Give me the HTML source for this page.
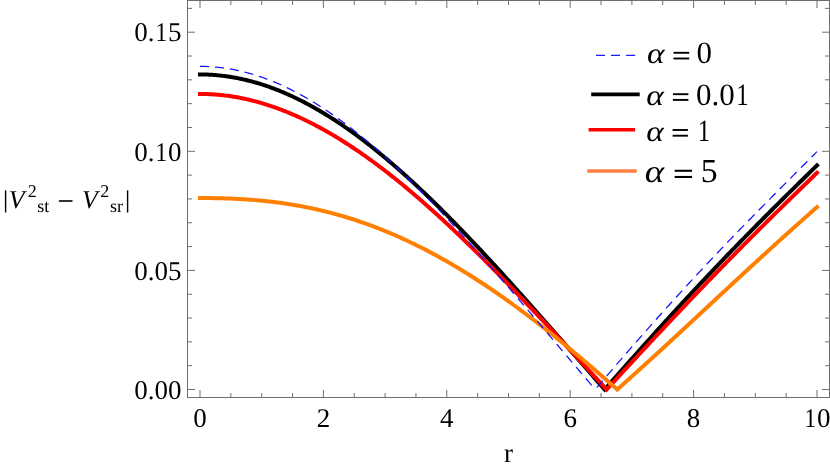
<!DOCTYPE html>
<html><head><meta charset="utf-8"><title>plot</title>
<style>
html,body{margin:0;padding:0;background:#fff;}
body{width:830px;height:468px;overflow:hidden;position:relative;font-family:"Liberation Serif",serif;}
svg{will-change:transform;}
svg text{text-rendering:geometricPrecision;}
</style></head><body>
<svg width="830" height="468" viewBox="0 0 830 468" style="position:absolute;left:0;top:0">
<rect width="830" height="468" fill="#fff"/>
<g fill="none" stroke-linejoin="miter" stroke-miterlimit="10" stroke-linecap="square">
<path d="M200.00 74.46L201.54 74.47L203.09 74.49L204.63 74.52L206.17 74.56L207.71 74.62L209.25 74.69L210.80 74.77L212.34 74.87L213.88 74.97L215.43 75.09L216.97 75.22L218.51 75.37L220.05 75.52L221.59 75.69L223.14 75.87L224.68 76.07L226.22 76.27L227.76 76.49L229.31 76.72L230.85 76.97L232.39 77.22L233.94 77.49L235.48 77.77L237.02 78.06L238.56 78.36L240.11 78.68L241.65 79.01L243.19 79.35L244.73 79.70L246.28 80.07L247.82 80.45L249.36 80.84L250.90 81.24L252.44 81.65L253.99 82.08L255.53 82.51L257.07 82.96L258.62 83.42L260.16 83.90L261.70 84.38L263.24 84.88L264.79 85.39L266.33 85.91L267.87 86.44L269.41 86.98L270.96 87.54L272.50 88.10L274.04 88.68L275.58 89.27L277.12 89.87L278.67 90.48L280.21 91.11L281.75 91.74L283.30 92.39L284.84 93.05L286.38 93.72L287.92 94.40L289.47 95.09L291.01 95.79L292.55 96.50L294.09 97.23L295.63 97.97L297.18 98.71L298.72 99.47L300.26 100.24L301.81 101.02L303.35 101.81L304.89 102.61L306.43 103.42L307.98 104.24L309.52 105.07L311.06 105.92L312.60 106.77L314.14 107.63L315.69 108.51L317.23 109.39L318.77 110.29L320.31 111.20L321.86 112.11L323.40 113.04L324.94 113.97L326.49 114.92L328.03 115.87L329.57 116.84L331.11 117.82L332.65 118.80L334.20 119.80L335.74 120.80L337.28 121.82L338.83 122.84L340.37 123.88L341.91 124.92L343.45 125.97L345.00 127.03L346.54 128.11L348.08 129.19L349.62 130.28L351.17 131.38L352.71 132.49L354.25 133.60L355.79 134.73L357.34 135.87L358.88 137.01L360.42 138.16L361.96 139.33L363.50 140.50L365.05 141.68L366.59 142.86L368.13 144.06L369.68 145.27L371.22 146.48L372.76 147.70L374.30 148.93L375.85 150.17L377.39 151.42L378.93 152.67L380.47 153.93L382.01 155.20L383.56 156.48L385.10 157.77L386.64 159.06L388.19 160.37L389.73 161.68L391.27 162.99L392.81 164.32L394.36 165.65L395.90 166.99L397.44 168.34L398.98 169.69L400.52 171.05L402.07 172.42L403.61 173.80L405.15 175.18L406.70 176.57L408.24 177.97L409.78 179.37L411.32 180.78L412.87 182.20L414.41 183.63L415.95 185.06L417.49 186.49L419.04 187.94L420.58 189.39L422.12 190.84L423.66 192.31L425.21 193.77L426.75 195.25L428.29 196.73L429.83 198.22L431.38 199.71L432.92 201.21L434.46 202.71L436.00 204.22L437.55 205.74L439.09 207.26L440.63 208.79L442.17 210.32L443.72 211.86L445.26 213.40L446.80 214.95L448.34 216.50L449.88 218.06L451.43 219.63L452.97 221.20L454.51 222.77L456.06 224.35L457.60 225.93L459.14 227.52L460.68 229.11L462.23 230.71L463.77 232.31L465.31 233.92L466.85 235.53L468.40 237.15L469.94 238.77L471.48 240.39L473.02 242.02L474.56 243.65L476.11 245.29L477.65 246.93L479.19 248.57L480.74 250.22L482.28 251.87L483.82 253.52L485.36 255.18L486.91 256.85L488.45 258.51L489.99 260.18L491.53 261.85L493.07 263.53L494.62 265.21L496.16 266.89L497.70 268.58L499.25 270.26L500.79 271.96L502.33 273.65L503.87 275.35L505.42 277.05L506.96 278.75L508.50 280.45L510.04 282.16L511.59 283.87L513.13 285.58L514.67 287.30L516.21 289.02L517.76 290.74L519.30 292.46L520.84 294.18L522.38 295.91L523.92 297.64L525.47 299.37L527.01 301.10L528.55 302.83L530.10 304.57L531.64 306.31L533.18 308.05L534.72 309.79L536.27 311.53L537.81 313.27L539.35 315.02L540.89 316.77L542.44 318.51L543.98 320.26L545.52 322.01L547.06 323.76L548.61 325.52L550.15 327.27L551.69 329.02L553.23 330.78L554.78 332.54L556.32 334.29L557.86 336.05L559.40 337.81L560.95 339.57L562.49 341.33L564.03 343.09L565.57 344.85L567.12 346.61L568.66 348.37L570.20 350.13L571.74 351.90L573.29 353.66L574.83 355.42L576.37 357.18L577.91 358.95L579.46 360.71L581.00 362.47L582.54 364.23L584.08 365.99L585.62 367.76L587.17 369.52L588.71 371.28L590.25 373.04L591.80 374.80L593.34 376.56L594.88 378.32L596.42 380.08L597.97 381.84L599.51 383.60L601.05 385.36L602.59 387.11L604.13 388.87L604.69 389.50L605.68 388.38L607.22 386.62L608.76 384.87L610.31 383.12L611.85 381.36L613.39 379.61L614.93 377.86L616.48 376.12L618.02 374.37L619.56 372.62L621.10 370.88L622.64 369.13L624.19 367.39L625.73 365.65L627.27 363.91L628.82 362.17L630.36 360.44L631.90 358.70L633.44 356.97L634.99 355.23L636.53 353.50L638.07 351.77L639.61 350.05L641.15 348.32L642.70 346.60L644.24 344.87L645.78 343.15L647.33 341.43L648.87 339.72L650.41 338.00L651.95 336.29L653.50 334.58L655.04 332.87L656.58 331.16L658.12 329.45L659.66 327.75L661.21 326.05L662.75 324.35L664.29 322.65L665.84 320.96L667.38 319.26L668.92 317.57L670.46 315.88L672.01 314.19L673.55 312.51L675.09 310.83L676.63 309.15L678.17 307.47L679.72 305.79L681.26 304.12L682.80 302.45L684.35 300.78L685.89 299.11L687.43 297.45L688.97 295.78L690.52 294.12L692.06 292.47L693.60 290.81L695.14 289.16L696.69 287.51L698.23 285.86L699.77 284.21L701.31 282.57L702.86 280.93L704.40 279.29L705.94 277.66L707.48 276.02L709.03 274.39L710.57 272.76L712.11 271.14L713.65 269.51L715.20 267.89L716.74 266.27L718.28 264.65L719.82 263.04L721.37 261.43L722.91 259.82L724.45 258.21L725.99 256.61L727.54 255.00L729.08 253.40L730.62 251.81L732.16 250.21L733.71 248.62L735.25 247.03L736.79 245.44L738.33 243.85L739.88 242.27L741.42 240.69L742.96 239.11L744.50 237.53L746.04 235.95L747.59 234.38L749.13 232.81L750.67 231.24L752.22 229.68L753.76 228.11L755.30 226.55L756.84 224.99L758.39 223.43L759.93 221.88L761.47 220.32L763.01 218.77L764.56 217.22L766.10 215.67L767.64 214.13L769.18 212.58L770.73 211.04L772.27 209.50L773.81 207.96L775.35 206.42L776.89 204.89L778.44 203.35L779.98 201.82L781.52 200.29L783.07 198.76L784.61 197.23L786.15 195.70L787.69 194.18L789.24 192.66L790.78 191.13L792.32 189.61L793.86 188.09L795.41 186.57L796.95 185.05L798.49 183.54L800.03 182.02L801.58 180.51L803.12 178.99L804.66 177.48L806.20 175.97L807.75 174.46L809.29 172.94L810.83 171.43L812.37 169.92L813.92 168.41L815.46 166.90L817.00 165.40" stroke="#000" stroke-width="4.0"/>
<path d="M200.00 93.96L201.54 93.97L203.09 93.99L204.63 94.01L206.17 94.06L207.71 94.11L209.25 94.17L210.80 94.25L212.34 94.34L213.88 94.43L215.43 94.55L216.97 94.67L218.51 94.80L220.05 94.95L221.59 95.10L223.14 95.27L224.68 95.45L226.22 95.64L227.76 95.84L229.31 96.06L230.85 96.28L232.39 96.52L233.94 96.77L235.48 97.03L237.02 97.30L238.56 97.58L240.11 97.87L241.65 98.18L243.19 98.49L244.73 98.82L246.28 99.16L247.82 99.51L249.36 99.87L250.90 100.24L252.44 100.62L253.99 101.01L255.53 101.42L257.07 101.83L258.62 102.26L260.16 102.70L261.70 103.14L263.24 103.60L264.79 104.07L266.33 104.55L267.87 105.04L269.41 105.55L270.96 106.06L272.50 106.58L274.04 107.11L275.58 107.66L277.12 108.21L278.67 108.78L280.21 109.35L281.75 109.94L283.30 110.54L284.84 111.14L286.38 111.76L287.92 112.39L289.47 113.03L291.01 113.67L292.55 114.33L294.09 115.00L295.63 115.68L297.18 116.37L298.72 117.07L300.26 117.77L301.81 118.49L303.35 119.22L304.89 119.96L306.43 120.71L307.98 121.46L309.52 122.23L311.06 123.01L312.60 123.79L314.14 124.59L315.69 125.40L317.23 126.21L318.77 127.04L320.31 127.87L321.86 128.71L323.40 129.57L324.94 130.43L326.49 131.30L328.03 132.18L329.57 133.07L331.11 133.97L332.65 134.88L334.20 135.79L335.74 136.72L337.28 137.65L338.83 138.60L340.37 139.55L341.91 140.51L343.45 141.48L345.00 142.46L346.54 143.45L348.08 144.44L349.62 145.45L351.17 146.46L352.71 147.48L354.25 148.51L355.79 149.55L357.34 150.60L358.88 151.65L360.42 152.71L361.96 153.78L363.50 154.86L365.05 155.95L366.59 157.04L368.13 158.15L369.68 159.26L371.22 160.38L372.76 161.50L374.30 162.64L375.85 163.78L377.39 164.93L378.93 166.08L380.47 167.25L382.01 168.42L383.56 169.60L385.10 170.78L386.64 171.98L388.19 173.18L389.73 174.39L391.27 175.60L392.81 176.82L394.36 178.05L395.90 179.29L397.44 180.53L398.98 181.78L400.52 183.04L402.07 184.30L403.61 185.57L405.15 186.85L406.70 188.13L408.24 189.42L409.78 190.72L411.32 192.02L412.87 193.33L414.41 194.65L415.95 195.97L417.49 197.30L419.04 198.63L420.58 199.97L422.12 201.32L423.66 202.67L425.21 204.03L426.75 205.39L428.29 206.76L429.83 208.14L431.38 209.52L432.92 210.90L434.46 212.30L436.00 213.69L437.55 215.10L439.09 216.51L440.63 217.92L442.17 219.34L443.72 220.76L445.26 222.19L446.80 223.63L448.34 225.07L449.88 226.51L451.43 227.96L452.97 229.42L454.51 230.88L456.06 232.34L457.60 233.81L459.14 235.28L460.68 236.76L462.23 238.24L463.77 239.73L465.31 241.22L466.85 242.72L468.40 244.22L469.94 245.72L471.48 247.23L473.02 248.75L474.56 250.26L476.11 251.79L477.65 253.31L479.19 254.84L480.74 256.37L482.28 257.91L483.82 259.45L485.36 260.99L486.91 262.54L488.45 264.09L489.99 265.65L491.53 267.21L493.07 268.77L494.62 270.33L496.16 271.90L497.70 273.47L499.25 275.05L500.79 276.63L502.33 278.21L503.87 279.79L505.42 281.38L506.96 282.97L508.50 284.56L510.04 286.16L511.59 287.76L513.13 289.36L514.67 290.97L516.21 292.57L517.76 294.18L519.30 295.79L520.84 297.41L522.38 299.02L523.92 300.64L525.47 302.26L527.01 303.89L528.55 305.51L530.10 307.14L531.64 308.77L533.18 310.40L534.72 312.04L536.27 313.67L537.81 315.31L539.35 316.95L540.89 318.59L542.44 320.24L543.98 321.88L545.52 323.53L547.06 325.17L548.61 326.82L550.15 328.47L551.69 330.13L553.23 331.78L554.78 333.44L556.32 335.09L557.86 336.75L559.40 338.41L560.95 340.07L562.49 341.73L564.03 343.39L565.57 345.05L567.12 346.72L568.66 348.38L570.20 350.05L571.74 351.72L573.29 353.38L574.83 355.05L576.37 356.72L577.91 358.39L579.46 360.06L581.00 361.73L582.54 363.40L584.08 365.07L585.62 366.74L587.17 368.42L588.71 370.09L590.25 371.76L591.80 373.43L593.34 375.11L594.88 376.78L596.42 378.45L597.97 380.13L599.51 381.80L601.05 383.47L602.59 385.15L604.13 386.82L605.68 388.50L606.60 389.50L607.22 388.83L608.76 387.16L610.31 385.49L611.85 383.81L613.39 382.14L614.93 380.47L616.48 378.80L618.02 377.13L619.56 375.46L621.10 373.79L622.64 372.12L624.19 370.45L625.73 368.78L627.27 367.11L628.82 365.45L630.36 363.78L631.90 362.12L633.44 360.45L634.99 358.79L636.53 357.12L638.07 355.46L639.61 353.80L641.15 352.14L642.70 350.48L644.24 348.82L645.78 347.16L647.33 345.51L648.87 343.85L650.41 342.20L651.95 340.55L653.50 338.89L655.04 337.24L656.58 335.59L658.12 333.95L659.66 332.30L661.21 330.65L662.75 329.01L664.29 327.36L665.84 325.72L667.38 324.08L668.92 322.44L670.46 320.81L672.01 319.17L673.55 317.53L675.09 315.90L676.63 314.27L678.17 312.64L679.72 311.01L681.26 309.38L682.80 307.76L684.35 306.13L685.89 304.51L687.43 302.89L688.97 301.27L690.52 299.65L692.06 298.04L693.60 296.42L695.14 294.81L696.69 293.20L698.23 291.59L699.77 289.98L701.31 288.38L702.86 286.77L704.40 285.17L705.94 283.57L707.48 281.97L709.03 280.38L710.57 278.78L712.11 277.19L713.65 275.60L715.20 274.01L716.74 272.42L718.28 270.83L719.82 269.25L721.37 267.66L722.91 266.08L724.45 264.51L725.99 262.93L727.54 261.35L729.08 259.78L730.62 258.21L732.16 256.64L733.71 255.07L735.25 253.50L736.79 251.94L738.33 250.38L739.88 248.82L741.42 247.26L742.96 245.70L744.50 244.15L746.04 242.59L747.59 241.04L749.13 239.49L750.67 237.94L752.22 236.40L753.76 234.85L755.30 233.31L756.84 231.77L758.39 230.23L759.93 228.69L761.47 227.15L763.01 225.62L764.56 224.09L766.10 222.56L767.64 221.03L769.18 219.50L770.73 217.97L772.27 216.45L773.81 214.92L775.35 213.40L776.89 211.88L778.44 210.36L779.98 208.84L781.52 207.33L783.07 205.81L784.61 204.30L786.15 202.79L787.69 201.28L789.24 199.77L790.78 198.26L792.32 196.75L793.86 195.25L795.41 193.74L796.95 192.24L798.49 190.74L800.03 189.24L801.58 187.74L803.12 186.24L804.66 184.74L806.20 183.24L807.75 181.75L809.29 180.25L810.83 178.76L812.37 177.26L813.92 175.77L815.46 174.28L817.00 172.79" stroke="#ff0000" stroke-width="4.0"/>
<path d="M200.00 198.04L201.54 198.04L203.09 198.05L204.63 198.05L206.17 198.06L207.71 198.07L209.25 198.09L210.80 198.10L212.34 198.12L213.88 198.15L215.43 198.17L216.97 198.20L218.51 198.23L220.05 198.27L221.59 198.31L223.14 198.35L224.68 198.40L226.22 198.45L227.76 198.50L229.31 198.56L230.85 198.62L232.39 198.68L233.94 198.75L235.48 198.82L237.02 198.90L238.56 198.98L240.11 199.06L241.65 199.15L243.19 199.24L244.73 199.34L246.28 199.44L247.82 199.54L249.36 199.65L250.90 199.77L252.44 199.88L253.99 200.01L255.53 200.13L257.07 200.27L258.62 200.40L260.16 200.55L261.70 200.69L263.24 200.85L264.79 201.00L266.33 201.16L267.87 201.33L269.41 201.50L270.96 201.68L272.50 201.86L274.04 202.05L275.58 202.24L277.12 202.44L278.67 202.64L280.21 202.85L281.75 203.06L283.30 203.28L284.84 203.50L286.38 203.73L287.92 203.97L289.47 204.21L291.01 204.46L292.55 204.71L294.09 204.97L295.63 205.23L297.18 205.50L298.72 205.78L300.26 206.06L301.81 206.34L303.35 206.64L304.89 206.93L306.43 207.24L307.98 207.55L309.52 207.86L311.06 208.19L312.60 208.51L314.14 208.85L315.69 209.19L317.23 209.53L318.77 209.89L320.31 210.25L321.86 210.61L323.40 210.98L324.94 211.36L326.49 211.74L328.03 212.13L329.57 212.53L331.11 212.93L332.65 213.34L334.20 213.75L335.74 214.17L337.28 214.60L338.83 215.03L340.37 215.47L341.91 215.92L343.45 216.37L345.00 216.83L346.54 217.29L348.08 217.77L349.62 218.24L351.17 218.73L352.71 219.22L354.25 219.72L355.79 220.22L357.34 220.73L358.88 221.25L360.42 221.77L361.96 222.30L363.50 222.84L365.05 223.38L366.59 223.93L368.13 224.48L369.68 225.05L371.22 225.61L372.76 226.19L374.30 226.77L375.85 227.36L377.39 227.95L378.93 228.55L380.47 229.16L382.01 229.78L383.56 230.40L385.10 231.02L386.64 231.66L388.19 232.30L389.73 232.94L391.27 233.60L392.81 234.26L394.36 234.92L395.90 235.60L397.44 236.27L398.98 236.96L400.52 237.65L402.07 238.35L403.61 239.06L405.15 239.77L406.70 240.48L408.24 241.21L409.78 241.94L411.32 242.68L412.87 243.42L414.41 244.17L415.95 244.93L417.49 245.69L419.04 246.46L420.58 247.23L422.12 248.01L423.66 248.80L425.21 249.59L426.75 250.39L428.29 251.20L429.83 252.01L431.38 252.83L432.92 253.66L434.46 254.49L436.00 255.33L437.55 256.17L439.09 257.02L440.63 257.88L442.17 258.74L443.72 259.61L445.26 260.48L446.80 261.36L448.34 262.25L449.88 263.14L451.43 264.04L452.97 264.94L454.51 265.85L456.06 266.77L457.60 267.69L459.14 268.62L460.68 269.55L462.23 270.49L463.77 271.44L465.31 272.39L466.85 273.35L468.40 274.31L469.94 275.28L471.48 276.25L473.02 277.23L474.56 278.22L476.11 279.21L477.65 280.21L479.19 281.21L480.74 282.22L482.28 283.23L483.82 284.25L485.36 285.27L486.91 286.30L488.45 287.34L489.99 288.38L491.53 289.43L493.07 290.48L494.62 291.53L496.16 292.60L497.70 293.66L499.25 294.73L500.79 295.81L502.33 296.89L503.87 297.98L505.42 299.08L506.96 300.17L508.50 301.28L510.04 302.38L511.59 303.50L513.13 304.61L514.67 305.74L516.21 306.86L517.76 308.00L519.30 309.13L520.84 310.28L522.38 311.42L523.92 312.57L525.47 313.73L527.01 314.89L528.55 316.05L530.10 317.22L531.64 318.40L533.18 319.58L534.72 320.76L536.27 321.95L537.81 323.14L539.35 324.34L540.89 325.54L542.44 326.74L543.98 327.95L545.52 329.16L547.06 330.38L548.61 331.60L550.15 332.83L551.69 334.06L553.23 335.29L554.78 336.53L556.32 337.77L557.86 339.01L559.40 340.26L560.95 341.52L562.49 342.77L564.03 344.03L565.57 345.30L567.12 346.57L568.66 347.84L570.20 349.11L571.74 350.39L573.29 351.67L574.83 352.96L576.37 354.25L577.91 355.54L579.46 356.84L581.00 358.14L582.54 359.44L584.08 360.74L585.62 362.05L587.17 363.37L588.71 364.68L590.25 366.00L591.80 367.32L593.34 368.64L594.88 369.97L596.42 371.30L597.97 372.63L599.51 373.97L601.05 375.31L602.59 376.65L604.13 377.99L605.68 379.34L607.22 380.69L608.76 382.04L610.31 383.40L611.85 384.75L613.39 386.11L614.93 387.48L616.48 388.84L617.22 389.50L618.02 388.79L619.56 387.42L621.10 386.05L622.64 384.68L624.19 383.30L625.73 381.93L627.27 380.55L628.82 379.16L630.36 377.78L631.90 376.39L633.44 375.01L634.99 373.62L636.53 372.23L638.07 370.83L639.61 369.44L641.15 368.04L642.70 366.64L644.24 365.24L645.78 363.84L647.33 362.44L648.87 361.03L650.41 359.62L651.95 358.22L653.50 356.81L655.04 355.40L656.58 353.98L658.12 352.57L659.66 351.16L661.21 349.74L662.75 348.32L664.29 346.91L665.84 345.49L667.38 344.07L668.92 342.65L670.46 341.22L672.01 339.80L673.55 338.38L675.09 336.95L676.63 335.53L678.17 334.10L679.72 332.67L681.26 331.25L682.80 329.82L684.35 328.39L685.89 326.96L687.43 325.53L688.97 324.10L690.52 322.67L692.06 321.24L693.60 319.81L695.14 318.37L696.69 316.94L698.23 315.51L699.77 314.08L701.31 312.64L702.86 311.21L704.40 309.78L705.94 308.34L707.48 306.91L709.03 305.48L710.57 304.04L712.11 302.61L713.65 301.18L715.20 299.74L716.74 298.31L718.28 296.88L719.82 295.45L721.37 294.01L722.91 292.58L724.45 291.15L725.99 289.72L727.54 288.29L729.08 286.86L730.62 285.43L732.16 284.00L733.71 282.57L735.25 281.14L736.79 279.72L738.33 278.29L739.88 276.86L741.42 275.44L742.96 274.01L744.50 272.59L746.04 271.17L747.59 269.75L749.13 268.32L750.67 266.90L752.22 265.49L753.76 264.07L755.30 262.65L756.84 261.23L758.39 259.82L759.93 258.40L761.47 256.99L763.01 255.58L764.56 254.17L766.10 252.76L767.64 251.35L769.18 249.95L770.73 248.54L772.27 247.14L773.81 245.73L775.35 244.33L776.89 242.93L778.44 241.53L779.98 240.14L781.52 238.74L783.07 237.35L784.61 235.95L786.15 234.56L787.69 233.17L789.24 231.78L790.78 230.40L792.32 229.01L793.86 227.63L795.41 226.25L796.95 224.87L798.49 223.49L800.03 222.12L801.58 220.74L803.12 219.37L804.66 218.00L806.20 216.63L807.75 215.26L809.29 213.90L810.83 212.54L812.37 211.18L813.92 209.82L815.46 208.46L817.00 207.10" stroke="#ff8000" stroke-width="4.0"/>
<path d="M200.00 66.36L201.54 66.36L203.09 66.38L204.63 66.42L206.17 66.47L207.71 66.53L209.25 66.60L210.80 66.69L212.34 66.80L213.88 66.91L215.43 67.04L216.97 67.19L218.51 67.35L220.05 67.52L221.59 67.70L223.14 67.90L224.68 68.11L226.22 68.34L227.76 68.58L229.31 68.83L230.85 69.10L232.39 69.38L233.94 69.67L235.48 69.98L237.02 70.30L238.56 70.63L240.11 70.98L241.65 71.34L243.19 71.71L244.73 72.10L246.28 72.49L247.82 72.91L249.36 73.33L250.90 73.77L252.44 74.22L253.99 74.69L255.53 75.17L257.07 75.66L258.62 76.16L260.16 76.68L261.70 77.21L263.24 77.75L264.79 78.31L266.33 78.88L267.87 79.46L269.41 80.05L270.96 80.66L272.50 81.27L274.04 81.91L275.58 82.55L277.12 83.21L278.67 83.87L280.21 84.55L281.75 85.25L283.30 85.95L284.84 86.67L286.38 87.40L287.92 88.14L289.47 88.90L291.01 89.66L292.55 90.44L294.09 91.23L295.63 92.03L297.18 92.85L298.72 93.67L300.26 94.51L301.81 95.36L303.35 96.22L304.89 97.09L306.43 97.97L307.98 98.87L309.52 99.77L311.06 100.69L312.60 101.62L314.14 102.56L315.69 103.51L317.23 104.47L318.77 105.45L320.31 106.43L321.86 107.42L323.40 108.43L324.94 109.45L326.49 110.48L328.03 111.51L329.57 112.56L331.11 113.62L332.65 114.69L334.20 115.77L335.74 116.86L337.28 117.96L338.83 119.07L340.37 120.19L341.91 121.33L343.45 122.47L345.00 123.62L346.54 124.78L348.08 125.95L349.62 127.13L351.17 128.32L352.71 129.52L354.25 130.73L355.79 131.95L357.34 133.18L358.88 134.42L360.42 135.66L361.96 136.92L363.50 138.19L365.05 139.46L366.59 140.75L368.13 142.04L369.68 143.34L371.22 144.65L372.76 145.97L374.30 147.30L375.85 148.63L377.39 149.98L378.93 151.33L380.47 152.69L382.01 154.06L383.56 155.44L385.10 156.83L386.64 158.22L388.19 159.62L389.73 161.03L391.27 162.45L392.81 163.88L394.36 165.31L395.90 166.75L397.44 168.20L398.98 169.66L400.52 171.12L402.07 172.59L403.61 174.07L405.15 175.55L406.70 177.05L408.24 178.54L409.78 180.05L411.32 181.56L412.87 183.08L414.41 184.61L415.95 186.14L417.49 187.68L419.04 189.23L420.58 190.78L422.12 192.34L423.66 193.91L425.21 195.48L426.75 197.06L428.29 198.64L429.83 200.23L431.38 201.83L432.92 203.43L434.46 205.03L436.00 206.65L437.55 208.27L439.09 209.89L440.63 211.52L442.17 213.15L443.72 214.79L445.26 216.44L446.80 218.09L448.34 219.74L449.88 221.40L451.43 223.07L452.97 224.74L454.51 226.41L456.06 228.09L457.60 229.78L459.14 231.46L460.68 233.16L462.23 234.85L463.77 236.55L465.31 238.26L466.85 239.97L468.40 241.68L469.94 243.40L471.48 245.12L473.02 246.85L474.56 248.58L476.11 250.31L477.65 252.04L479.19 253.78L480.74 255.53L482.28 257.27L483.82 259.02L485.36 260.78L486.91 262.53L488.45 264.29L489.99 266.05L491.53 267.82L493.07 269.59L494.62 271.36L496.16 273.13L497.70 274.91L499.25 276.69L500.79 278.47L502.33 280.25L503.87 282.04L505.42 283.82L506.96 285.62L508.50 287.41L510.04 289.20L511.59 291.00L513.13 292.80L514.67 294.60L516.21 296.40L517.76 298.20L519.30 300.01L520.84 301.82L522.38 303.62L523.92 305.43L525.47 307.24L527.01 309.06L528.55 310.87L530.10 312.69L531.64 314.50L533.18 316.32L534.72 318.14L536.27 319.96L537.81 321.78L539.35 323.60L540.89 325.42L542.44 327.24L543.98 329.06L545.52 330.89L547.06 332.71L548.61 334.53L550.15 336.36L551.69 338.18L553.23 340.01L554.78 341.83L556.32 343.66L557.86 345.48L559.40 347.31L560.95 349.13L562.49 350.96L564.03 352.78L565.57 354.60L567.12 356.43L568.66 358.25L570.20 360.07L571.74 361.90L573.29 363.72L574.83 365.54L576.37 367.36L577.91 369.18L579.46 371.00L581.00 372.82L582.54 374.64L584.08 376.46L585.62 378.27L587.17 380.09L588.71 381.90L590.25 383.71L591.80 385.52L593.34 387.34L594.88 389.14L595.18 389.50" stroke="#1212ff" stroke-width="1.25" stroke-dasharray="9 6" stroke-linecap="butt"/>
<path d="M595.18 389.50L596.42 388.05L597.97 386.24L599.51 384.44L601.05 382.63L602.59 380.83L604.13 379.03L605.68 377.23L607.22 375.43L608.76 373.64L610.31 371.84L611.85 370.05L613.39 368.26L614.93 366.47L616.48 364.68L618.02 362.89L619.56 361.11L621.10 359.33L622.64 357.55L624.19 355.77L625.73 354.00L627.27 352.22L628.82 350.45L630.36 348.68L631.90 346.91L633.44 345.15L634.99 343.39L636.53 341.63L638.07 339.87L639.61 338.11L641.15 336.36L642.70 334.61L644.24 332.86L645.78 331.11L647.33 329.37L648.87 327.63L650.41 325.89L651.95 324.15L653.50 322.42L655.04 320.69L656.58 318.96L658.12 317.23L659.66 315.51L661.21 313.78L662.75 312.07L664.29 310.35L665.84 308.64L667.38 306.93L668.92 305.22L670.46 303.51L672.01 301.81L673.55 300.11L675.09 298.41L676.63 296.72L678.17 295.03L679.72 293.34L681.26 291.65L682.80 289.97L684.35 288.28L685.89 286.61L687.43 284.93L688.97 283.26L690.52 281.59L692.06 279.92L693.60 278.26L695.14 276.59L696.69 274.93L698.23 273.28L699.77 271.62L701.31 269.97L702.86 268.32L704.40 266.68L705.94 265.04L707.48 263.39L709.03 261.76L710.57 260.12L712.11 258.49L713.65 256.86L715.20 255.23L716.74 253.61L718.28 251.98L719.82 250.36L721.37 248.75L722.91 247.13L724.45 245.52L725.99 243.91L727.54 242.30L729.08 240.69L730.62 239.09L732.16 237.49L733.71 235.89L735.25 234.29L736.79 232.70L738.33 231.11L739.88 229.52L741.42 227.93L742.96 226.34L744.50 224.76L746.04 223.18L747.59 221.60L749.13 220.02L750.67 218.44L752.22 216.87L753.76 215.30L755.30 213.73L756.84 212.16L758.39 210.59L759.93 209.02L761.47 207.46L763.01 205.90L764.56 204.33L766.10 202.77L767.64 201.21L769.18 199.66L770.73 198.10L772.27 196.54L773.81 194.99L775.35 193.44L776.89 191.88L778.44 190.33L779.98 188.78L781.52 187.23L783.07 185.68L784.61 184.13L786.15 182.58L787.69 181.03L789.24 179.49L790.78 177.94L792.32 176.39L793.86 174.84L795.41 173.30L796.95 171.75L798.49 170.20L800.03 168.65L801.58 167.11L803.12 165.56L804.66 164.01L806.20 162.46L807.75 160.91L809.29 159.36L810.83 157.81L812.37 156.25L813.92 154.70L815.46 153.14L817.00 151.59" stroke="#1212ff" stroke-width="1.25" stroke-dasharray="9 6" stroke-dashoffset="12.31" stroke-linecap="butt"/>
</g>
<g stroke="#6e6e6e" stroke-width="1" fill="none">
<rect x="187.5" y="0.5" width="642.0" height="397.0"/>
<line x1="200.00" y1="397.5" x2="200.00" y2="390.0"/><line x1="200.00" y1="0.5" x2="200.00" y2="8.0"/><line x1="230.85" y1="397.5" x2="230.85" y2="393.0"/><line x1="230.85" y1="0.5" x2="230.85" y2="5.0"/><line x1="261.70" y1="397.5" x2="261.70" y2="393.0"/><line x1="261.70" y1="0.5" x2="261.70" y2="5.0"/><line x1="292.55" y1="397.5" x2="292.55" y2="393.0"/><line x1="292.55" y1="0.5" x2="292.55" y2="5.0"/><line x1="323.40" y1="397.5" x2="323.40" y2="390.0"/><line x1="323.40" y1="0.5" x2="323.40" y2="8.0"/><line x1="354.25" y1="397.5" x2="354.25" y2="393.0"/><line x1="354.25" y1="0.5" x2="354.25" y2="5.0"/><line x1="385.10" y1="397.5" x2="385.10" y2="393.0"/><line x1="385.10" y1="0.5" x2="385.10" y2="5.0"/><line x1="415.95" y1="397.5" x2="415.95" y2="393.0"/><line x1="415.95" y1="0.5" x2="415.95" y2="5.0"/><line x1="446.80" y1="397.5" x2="446.80" y2="390.0"/><line x1="446.80" y1="0.5" x2="446.80" y2="8.0"/><line x1="477.65" y1="397.5" x2="477.65" y2="393.0"/><line x1="477.65" y1="0.5" x2="477.65" y2="5.0"/><line x1="508.50" y1="397.5" x2="508.50" y2="393.0"/><line x1="508.50" y1="0.5" x2="508.50" y2="5.0"/><line x1="539.35" y1="397.5" x2="539.35" y2="393.0"/><line x1="539.35" y1="0.5" x2="539.35" y2="5.0"/><line x1="570.20" y1="397.5" x2="570.20" y2="390.0"/><line x1="570.20" y1="0.5" x2="570.20" y2="8.0"/><line x1="601.05" y1="397.5" x2="601.05" y2="393.0"/><line x1="601.05" y1="0.5" x2="601.05" y2="5.0"/><line x1="631.90" y1="397.5" x2="631.90" y2="393.0"/><line x1="631.90" y1="0.5" x2="631.90" y2="5.0"/><line x1="662.75" y1="397.5" x2="662.75" y2="393.0"/><line x1="662.75" y1="0.5" x2="662.75" y2="5.0"/><line x1="693.60" y1="397.5" x2="693.60" y2="390.0"/><line x1="693.60" y1="0.5" x2="693.60" y2="8.0"/><line x1="724.45" y1="397.5" x2="724.45" y2="393.0"/><line x1="724.45" y1="0.5" x2="724.45" y2="5.0"/><line x1="755.30" y1="397.5" x2="755.30" y2="393.0"/><line x1="755.30" y1="0.5" x2="755.30" y2="5.0"/><line x1="786.15" y1="397.5" x2="786.15" y2="393.0"/><line x1="786.15" y1="0.5" x2="786.15" y2="5.0"/><line x1="817.00" y1="397.5" x2="817.00" y2="390.0"/><line x1="817.00" y1="0.5" x2="817.00" y2="8.0"/><line x1="187.5" y1="389.50" x2="195.0" y2="389.50"/><line x1="829.5" y1="389.50" x2="822.0" y2="389.50"/><line x1="187.5" y1="365.68" x2="192.0" y2="365.68"/><line x1="829.5" y1="365.68" x2="825.0" y2="365.68"/><line x1="187.5" y1="341.86" x2="192.0" y2="341.86"/><line x1="829.5" y1="341.86" x2="825.0" y2="341.86"/><line x1="187.5" y1="318.04" x2="192.0" y2="318.04"/><line x1="829.5" y1="318.04" x2="825.0" y2="318.04"/><line x1="187.5" y1="294.22" x2="192.0" y2="294.22"/><line x1="829.5" y1="294.22" x2="825.0" y2="294.22"/><line x1="187.5" y1="270.40" x2="195.0" y2="270.40"/><line x1="829.5" y1="270.40" x2="822.0" y2="270.40"/><line x1="187.5" y1="246.58" x2="192.0" y2="246.58"/><line x1="829.5" y1="246.58" x2="825.0" y2="246.58"/><line x1="187.5" y1="222.76" x2="192.0" y2="222.76"/><line x1="829.5" y1="222.76" x2="825.0" y2="222.76"/><line x1="187.5" y1="198.94" x2="192.0" y2="198.94"/><line x1="829.5" y1="198.94" x2="825.0" y2="198.94"/><line x1="187.5" y1="175.12" x2="192.0" y2="175.12"/><line x1="829.5" y1="175.12" x2="825.0" y2="175.12"/><line x1="187.5" y1="151.30" x2="195.0" y2="151.30"/><line x1="829.5" y1="151.30" x2="822.0" y2="151.30"/><line x1="187.5" y1="127.48" x2="192.0" y2="127.48"/><line x1="829.5" y1="127.48" x2="825.0" y2="127.48"/><line x1="187.5" y1="103.66" x2="192.0" y2="103.66"/><line x1="829.5" y1="103.66" x2="825.0" y2="103.66"/><line x1="187.5" y1="79.84" x2="192.0" y2="79.84"/><line x1="829.5" y1="79.84" x2="825.0" y2="79.84"/><line x1="187.5" y1="56.02" x2="192.0" y2="56.02"/><line x1="829.5" y1="56.02" x2="825.0" y2="56.02"/><line x1="187.5" y1="32.20" x2="195.0" y2="32.20"/><line x1="829.5" y1="32.20" x2="822.0" y2="32.20"/><line x1="187.5" y1="8.38" x2="192.0" y2="8.38"/><line x1="829.5" y1="8.38" x2="825.0" y2="8.38"/>
</g>
<g font-family="Liberation Serif, serif" fill="#000">
<text x="193.25" y="427.20" font-size="27">0</text>
<text x="316.65" y="427.20" font-size="27">2</text>
<text x="440.05" y="427.20" font-size="27">4</text>
<text x="563.45" y="427.20" font-size="27">6</text>
<text x="686.85" y="427.20" font-size="27">8</text>
<text transform="translate(804.50 427.20) scale(0.86 1)" font-size="27">1</text><text x="817.00" y="427.20" font-size="27">0</text>
<text x="134.35" y="398.70" font-size="27">0.00</text>
<text x="134.35" y="279.60" font-size="27">0.05</text>
<text x="134.35" y="160.50" font-size="27">0.</text><text transform="translate(155.60 160.50) scale(0.86 1)" font-size="27">1</text><text x="168.10" y="160.50" font-size="27">0</text>
<text x="134.35" y="41.40" font-size="27">0.</text><text transform="translate(155.60 41.40) scale(0.86 1)" font-size="27">1</text><text x="168.10" y="41.40" font-size="27">5</text>
<text x="503.90" y="461.90" font-size="27">r</text>
<rect x="4.90" y="190.3" width="1.4" height="22.2"/>
<text x="8.72" y="208.30" font-size="25.7" font-style="italic">V</text>
<text x="27.85" y="196.80" font-size="18">2</text>
<text x="37.25" y="212.00" font-size="18">st</text>
<rect x="58.9" y="200.2" width="13.6" height="1.6"/>
<text x="82.03" y="208.30" font-size="25.7" font-style="italic">V</text>
<text x="100.15" y="196.80" font-size="18">2</text>
<text x="109.95" y="212.00" font-size="18">sr</text>
<rect x="126.90" y="190.3" width="1.4" height="22.2"/>
<text transform="translate(647.05 63.40) scale(1.08 0.94)" font-size="31" font-style="italic">α</text><rect x="673.50" y="51.85" width="15.70" height="1.90"/><rect x="673.50" y="57.55" width="15.70" height="1.90"/><text x="696.58" y="63.40" font-size="31">0</text>
<text transform="translate(646.25 104.80) scale(1.08 0.94)" font-size="31" font-style="italic">α</text><rect x="672.90" y="93.25" width="15.50" height="1.90"/><rect x="672.90" y="98.95" width="15.50" height="1.90"/><text x="695.98" y="104.80" font-size="31">0.0</text><text transform="translate(736.36 104.80) scale(0.8 1)" font-size="31">1</text>
<text transform="translate(646.25 140.60) scale(1.08 0.94)" font-size="31" font-style="italic">α</text><rect x="672.60" y="129.05" width="15.30" height="1.90"/><rect x="672.60" y="134.75" width="15.30" height="1.90"/><text transform="translate(697.79 140.60) scale(0.8 1)" font-size="31">1</text>
<text transform="translate(644.80 182.30) scale(1.1 0.94)" font-size="33.7" font-style="italic">α</text><rect x="674.70" y="169.74" width="17.40" height="2.07"/><rect x="674.70" y="175.94" width="17.40" height="2.07"/><text x="700.70" y="182.30" font-size="33.7">5</text>
</g>
<g fill="none">
<line x1="596.0" y1="55.3" x2="635.1" y2="55.3" stroke="#1a1aff" stroke-width="1.3" stroke-dasharray="9 6.05"/>
<line x1="591.2" y1="94.4" x2="639.7" y2="94.4" stroke="#000" stroke-width="3.6"/>
<line x1="588.6" y1="129.7" x2="635.1" y2="129.7" stroke="#ff0000" stroke-width="3.5"/>
<line x1="587.2" y1="171.1" x2="636.8" y2="171.1" stroke="#ff8040" stroke-width="3.5"/>
</g>
</svg>
</body></html>
